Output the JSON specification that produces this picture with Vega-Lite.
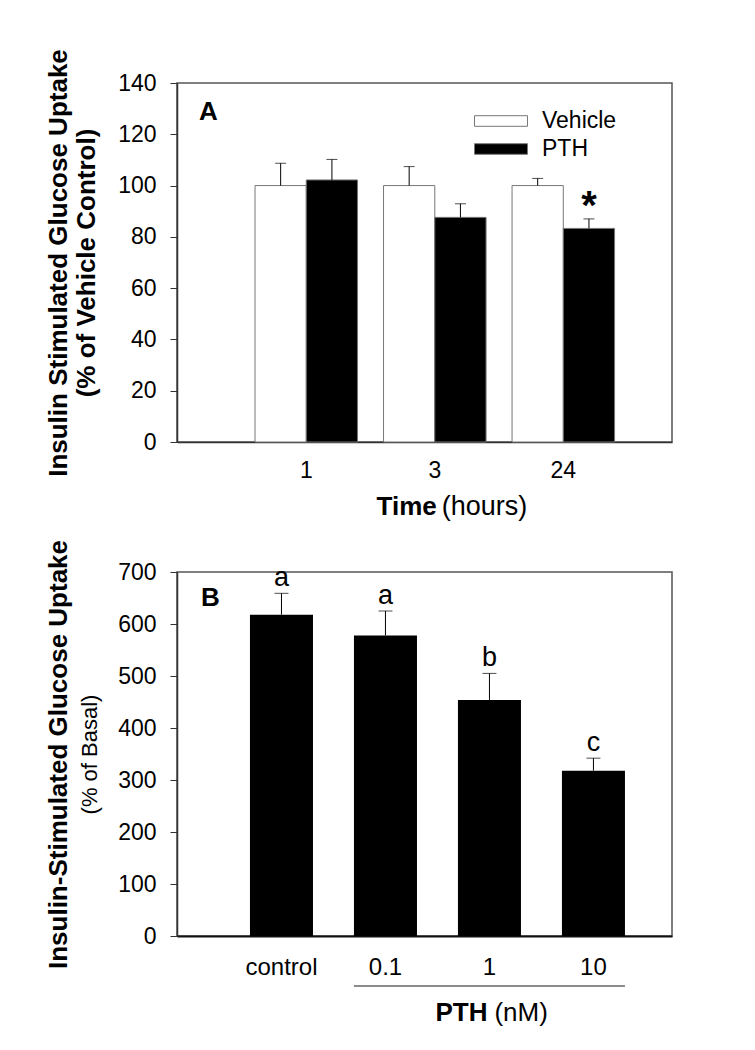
{
  "$schema": "https://vega.github.io/schema/vega-lite/v6.json",
  "background": "white",
  "padding": {"left": 44, "top": 47, "right": 0, "bottom": 0},
  "spacing": 17,
  "config": {
    "font": "Liberation Sans",
    "view": {"stroke": "#555", "strokeWidth": 1.5},
    "axis": {"labelFont": "Liberation Sans", "titleFont": "Liberation Sans", "labelColor": "#000", "titleColor": "#000", "grid": false, "domainColor": "#333", "tickColor": "#333"},
    "text": {"font": "Liberation Sans", "color": "#000"},
    "title": {"font": "Liberation Sans", "color": "#000"},
    "legend": {"labelFont": "Liberation Sans", "labelColor": "#000"}
  },
  "datasets": {
    "timecourse": [
      {"time": "1", "treatment": "Vehicle", "uptake": 100, "err": 108.7, "sig": ""},
      {"time": "1", "treatment": "PTH", "uptake": 102.2, "err": 110.2, "sig": ""},
      {"time": "3", "treatment": "Vehicle", "uptake": 100, "err": 107.4, "sig": ""},
      {"time": "3", "treatment": "PTH", "uptake": 87.6, "err": 92.9, "sig": ""},
      {"time": "24", "treatment": "Vehicle", "uptake": 100, "err": 102.8, "sig": ""},
      {"time": "24", "treatment": "PTH", "uptake": 83.3, "err": 87.0, "sig": "*"}
    ],
    "dose": [
      {"dose": "control", "uptake": 618, "err": 659, "group": "a"},
      {"dose": "0.1", "uptake": 578, "err": 625, "group": "a"},
      {"dose": "1", "uptake": 454, "err": 505, "group": "b"},
      {"dose": "10", "uptake": 318, "err": 342, "group": "c"}
    ]
  },
  "vconcat": [
    {
      "width": 495,
      "height": 359,
      "data": {"name": "timecourse"},
      "title": {"text": "A", "anchor": "start", "frame": "group", "fontSize": 26, "fontWeight": "bold", "baseline": "middle", "offset": 0, "dx": 22, "dy": 89},
      "resolve": {"axis": {"y": "independent"}},
      "layer": [
        {
          "mark": {"type": "bar", "stroke": "#777", "strokeWidth": 1},
          "encoding": {
            "x": {"field": "time", "type": "ordinal", "scale": {"domain": ["1", "3", "24"], "paddingInner": 0.2023, "paddingOuter": 0.527, "align": 0.576}, "axis": {"title": null, "labelAngle": 0, "ticks": false, "tickSize": 0, "labelPadding": 17, "labelFontSize": 23, "domainWidth": 1.5}},
            "xOffset": {"field": "treatment", "type": "nominal", "scale": {"domain": ["Vehicle", "PTH"], "paddingInner": 0, "paddingOuter": 0}},
            "y": {"field": "uptake", "type": "quantitative", "scale": {"domain": [0, 140], "nice": false}, "axis": {"orient": "left", "title": "Insulin Stimulated Glucose Uptake", "titleFontSize": 26, "titleFontWeight": "bold", "titlePadding": 46, "values": [0, 20, 40, 60, 80, 100, 120, 140], "tickSize": 7, "labelPadding": 14, "labelFontSize": 23, "domainWidth": 1.5}},
            "fill": {"field": "treatment", "type": "nominal", "scale": {"domain": ["Vehicle", "PTH"], "range": ["#ffffff", "#000000"]}, "legend": {"title": null, "orient": "none", "legendX": 310, "legendY": 24, "symbolType": "M-2,-0.4H2V0.4H-2Z", "symbolSize": 702, "symbolStrokeColor": "#777", "symbolStrokeWidth": 1, "labelFontSize": 23, "labelOffset": 27, "rowPadding": 2, "padding": 0}}
          }
        },
        {
          "mark": {"type": "rule", "color": "#000", "strokeWidth": 1},
          "encoding": {
            "x": {"field": "time", "type": "ordinal"},
            "xOffset": {"field": "treatment", "type": "nominal"},
            "y": {"field": "uptake", "type": "quantitative", "axis": null},
            "y2": {"field": "err"}
          }
        },
        {
          "mark": {"type": "tick", "color": "#000", "thickness": 1, "size": 11, "orient": "horizontal"},
          "encoding": {
            "x": {"field": "time", "type": "ordinal"},
            "xOffset": {"field": "treatment", "type": "nominal"},
            "y": {"field": "err", "type": "quantitative", "axis": null}
          }
        },
        {
          "mark": {"type": "text", "fontSize": 40, "fontWeight": "bold", "baseline": "alphabetic"},
          "encoding": {
            "x": {"field": "time", "type": "ordinal"},
            "xOffset": {"field": "treatment", "type": "nominal"},
            "y": {"field": "err", "type": "quantitative", "axis": {"orient": "left", "title": "(% of Vehicle Control)", "titleFontSize": 26, "titleFontWeight": "bold", "titlePadding": 78, "labels": false, "ticks": false, "domain": false, "grid": false}},
            "text": {"field": "sig"}
          }
        },
        {
          "data": {"values": [{}]},
          "mark": {"type": "text", "fontSize": 26, "fontWeight": "bold", "align": "right", "baseline": "middle", "dx": 2},
          "encoding": {
            "x": {"datum": "3", "type": "ordinal"},
            "y": {"datum": -25.3, "type": "quantitative", "axis": null},
            "text": {"value": "Time"}
          }
        },
        {
          "data": {"values": [{}]},
          "mark": {"type": "text", "fontSize": 27, "align": "left", "baseline": "middle", "dx": 7},
          "encoding": {
            "x": {"datum": "3", "type": "ordinal"},
            "y": {"datum": -25.3, "type": "quantitative", "axis": null},
            "text": {"value": "(hours)"}
          }
        }
      ]
    },
    {
      "width": 495,
      "height": 364,
      "data": {"name": "dose"},
      "title": {"text": "B", "anchor": "start", "frame": "group", "fontSize": 26, "fontWeight": "bold", "baseline": "middle", "offset": 0, "dx": 24, "dy": 85},
      "resolve": {"axis": {"y": "independent"}},
      "layer": [
        {
          "mark": {"type": "bar", "color": "#000"},
          "encoding": {
            "x": {"field": "dose", "type": "ordinal", "scale": {"domain": ["control", "0.1", "1", "10"], "paddingInner": 0.394, "paddingOuter": 0.577, "align": 0.608}, "axis": {"title": null, "labelAngle": 0, "ticks": false, "tickSize": 0, "labelPadding": 19, "labelFontSize": 24, "domainColor": "#111", "domainWidth": 2}},
            "y": {"field": "uptake", "type": "quantitative", "scale": {"domain": [0, 700], "nice": false}, "axis": {"orient": "left", "title": "Insulin-Stimulated Glucose Uptake", "titleFontSize": 26, "titleFontWeight": "bold", "titlePadding": 46, "values": [0, 100, 200, 300, 400, 500, 600, 700], "tickSize": 7, "labelPadding": 14, "labelFontSize": 23, "domainWidth": 1.5}}
          }
        },
        {
          "mark": {"type": "rule", "color": "#000", "strokeWidth": 1},
          "encoding": {
            "x": {"field": "dose", "type": "ordinal"},
            "y": {"field": "uptake", "type": "quantitative", "axis": null},
            "y2": {"field": "err"}
          }
        },
        {
          "mark": {"type": "tick", "color": "#000", "thickness": 1, "size": 14, "orient": "horizontal"},
          "encoding": {
            "x": {"field": "dose", "type": "ordinal"},
            "y": {"field": "err", "type": "quantitative", "axis": null}
          }
        },
        {
          "mark": {"type": "text", "fontSize": 27, "baseline": "alphabetic", "dy": -7},
          "encoding": {
            "x": {"field": "dose", "type": "ordinal"},
            "y": {"field": "err", "type": "quantitative", "axis": {"orient": "left", "title": "(% of Basal)", "titleFontSize": 22, "titleFontWeight": "normal", "titlePadding": 76, "labels": false, "ticks": false, "domain": false, "grid": false}},
            "text": {"field": "group"}
          }
        },
        {
          "data": {"values": [{}]},
          "mark": {"type": "rule", "color": "#666", "strokeWidth": 1.5},
          "encoding": {
            "x": {"datum": "0.1", "type": "ordinal", "bandPosition": 0},
            "x2": {"datum": "10", "bandPosition": 1},
            "y": {"datum": -96, "type": "quantitative", "axis": null}
          }
        },
        {
          "data": {"values": [{}]},
          "mark": {"type": "text", "fontSize": 26, "fontWeight": "bold", "align": "right", "baseline": "middle", "dx": -2},
          "encoding": {
            "x": {"datum": "1", "type": "ordinal"},
            "y": {"datum": -148, "type": "quantitative", "axis": null},
            "text": {"value": "PTH"}
          }
        },
        {
          "data": {"values": [{}]},
          "mark": {"type": "text", "fontSize": 26, "align": "left", "baseline": "middle", "dx": 5},
          "encoding": {
            "x": {"datum": "1", "type": "ordinal"},
            "y": {"datum": -148, "type": "quantitative", "axis": null},
            "text": {"value": "(nM)"}
          }
        }
      ]
    }
  ]
}
